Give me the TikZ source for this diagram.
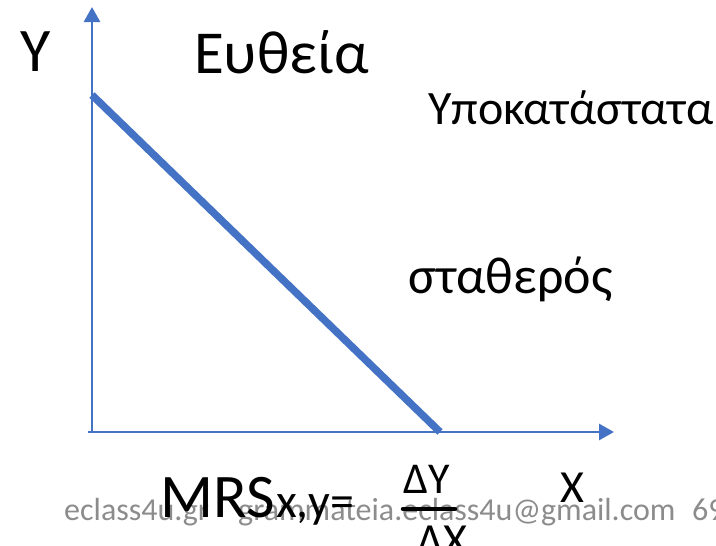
\documentclass[tikz,border=0pt]{standalone}
\usepackage{fontspec}
\setmainfont{Carlito}
\usepackage{xcolor}
\definecolor{axisblue}{HTML}{4472C4}
\definecolor{footgray}{HTML}{8C8C8C}
\usetikzlibrary{positioning,arrows.meta}

\begin{document}
\begin{tikzpicture}[x=1pt, y=-1pt,
      axis/.style={draw=axisblue, line width=2.8pt, -{Triangle[width=16pt,length=15pt]}},
      budget/.style={draw=axisblue, line width=7.5pt},
      hand/.style={inner sep=0pt, text=black, font=\fontsize{#1}{#1}\selectfont},
      foot/.style={inner sep=0pt, anchor=base west, text=footgray, font=\fontsize{32}{32}\selectfont},
      fracbar/.style={draw=black, line width=4.5pt, line cap=round},
    ]
    \useasboundingbox (0,0) rectangle (716,546);
    \coordinate (origin) at (92,432);
    \coordinate (ytip) at (92,7);
    \coordinate (xstart) at (88,432);
    \coordinate (xtip) at (614,432);
    \coordinate (yint) at (92,95);
    \coordinate (xint) at (440,432);

    \node[foot] (site) at (64,520) {eclass4u.gr};
    \node[foot] (mail) at (238,520) {grammateia.eclass4u@gmail.com};
    \node[foot] (page) at (692,520) {69};

    \draw[axis] (origin) -- (ytip);
    \draw[axis] (xstart) -- (xtip);
    \draw[budget] (yint) -- (xint);

    \node[hand=62] (ylbl) at (36,52) {Y};
    \node[hand=61, anchor=base west] (line) at (194,74) {Ευθεία};
    \node[hand=48, anchor=base west] (subst) at (428,124) {Υποκατάστατα};
    \node[hand=52, anchor=base west] (const) at (408,293) {σταθερός};
    \node[hand=62, anchor=base west] (mrs) at (160,517) {MRS};
    \node[hand=48, anchor=base west] (sub) at (276,517) {x,y=};
    \node[hand=44] (dy) at (427,479) {ΔY};
    \node[hand=46] (dx) at (442,541) {ΔX};
    \coordinate (barl) at (403,509);
    \coordinate (barr) at (455,509);
    \draw[fracbar] (barl) -- (barr);
    \node[hand=46] (xlbl) at (572,488) {X};
  \end{tikzpicture}
\end{document}
